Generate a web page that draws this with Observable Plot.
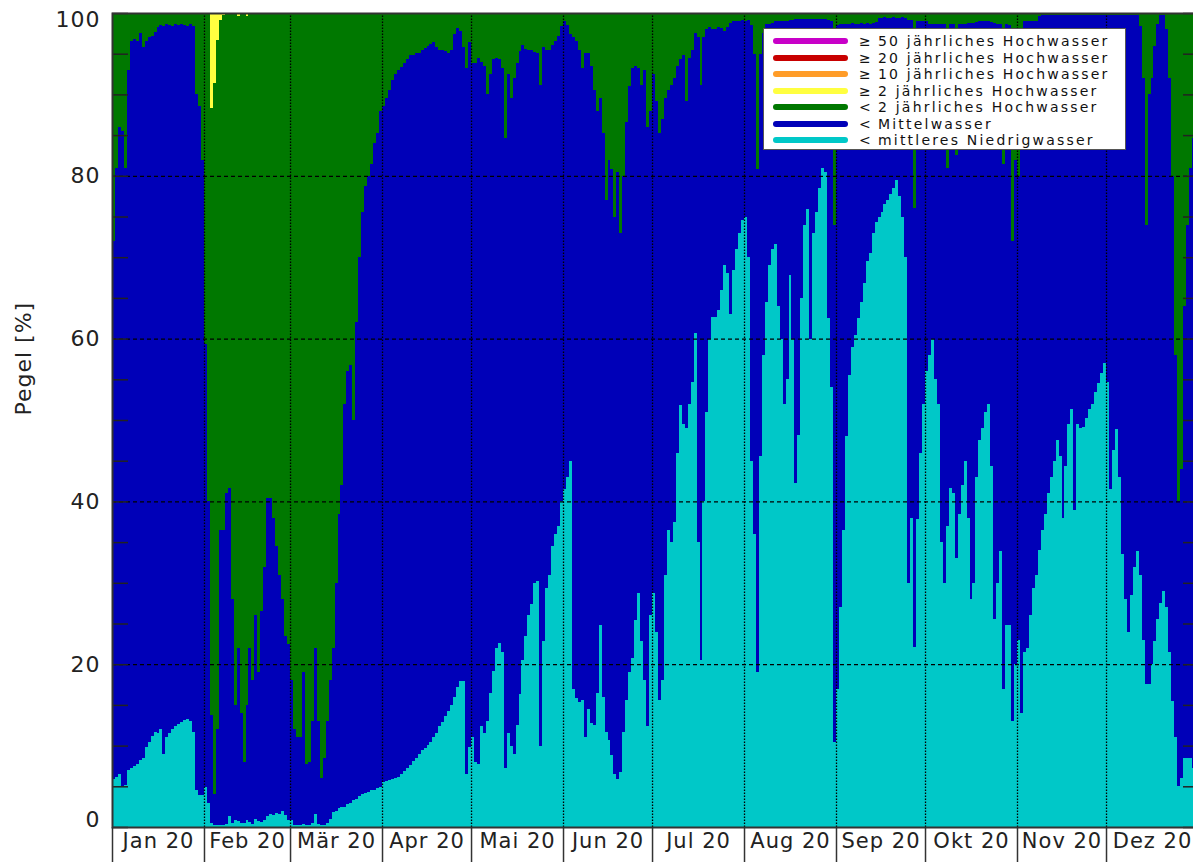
<!DOCTYPE html>
<html>
<head>
<meta charset="utf-8">
<script src="https://cdn.jsdelivr.net/npm/d3@7"></script>
<script src="https://cdn.jsdelivr.net/npm/@observablehq/plot@0.6"></script>
<style>
  html, body { margin: 0; padding: 0; background: #fff; overflow: hidden; }
  #wrap { position: relative; width: 1193px; height: 862px; overflow: hidden; background: #fff; }
  #wrap svg { max-width: none !important; display: block; }
  #wrap svg text { letter-spacing: 1px; }
  #legend { position: absolute; left: 763px; top: 28px; width: 363px; height: 122px;
            background: #fff; border: 1px solid #555; box-sizing: border-box;
            font-family: "DejaVu Sans", sans-serif; font-size: 14px; letter-spacing: 2.2px; color: #111; }
  #legend .ln { position: absolute; left: 9px; width: 75px; height: 6px; border-radius: 3px; }
  #legend .sym { position: absolute; left: 95px; height: 16px; line-height: 16px; }
  #legend .txt { position: absolute; left: 114px; height: 16px; line-height: 16px; white-space: nowrap; }
</style>
</head>
<body>
<div id="wrap"></div>
<script>
// ---- Daten: tägliche Anteile der Pegel (%) im Jahr 2020 ----
// Anteil der Pegel unter mittlerem Niedrigwasser (cyan)
const anteilUnterMNW = [
  // Jan
  5.9, 6.2, 6.5, 5.0, 5.2, 7.0, 7.2, 7.5, 7.8, 8.2, 8.5, 9.8, 10.5, 11.2, 11.7, 11.5, 12.0, 9.0, 11.0, 11.5, 12.0, 12.4, 12.7, 12.9, 13.2, 13.3, 13.0, 11.7, 4.6, 3.9, 3.9,
  // Feb
  4.9, 3.0, 0.5, 0.3, 0.3, 0.3, 0.3, 0.4, 1.3, 0.5, 0.8, 0.7, 0.5, 0.5, 0.8, 0.6, 0.4, 1.0, 0.7, 0.6, 0.8, 1.3, 1.6, 1.5, 1.7, 1.6, 2.0, 1.5, 0.8,
  // Mär
  0.8, 0.3, 0.3, 0.3, 0.4, 0.3, 0.3, 0.5, 1.6, 0.4, 0.3, 0.3, 0.5, 1.0, 1.8, 2.0, 2.3, 2.4, 2.5, 2.8, 3.0, 3.3, 3.5, 3.8, 4.0, 4.2, 4.3, 4.5, 4.6, 4.8, 4.9,
  // Apr
  5.5, 5.6, 5.8, 5.9, 6.0, 6.2, 6.5, 6.9, 7.3, 7.6, 8.1, 8.5, 9.0, 9.4, 9.7, 10.1, 10.4, 11.0, 11.6, 12.4, 12.9, 13.6, 14.3, 15.0, 16.0, 17.2, 17.9, 17.9, 6.5, 9.8,
  // Mai
  11, 8, 7.8, 12.4, 11.5, 13, 16.5, 19.2, 22, 22.6, 21.5, 7.2, 11.5, 10, 9, 12.5, 16.3, 20.5, 23.5, 26, 27.4, 30, 30.2, 10, 22.8, 29.3, 31, 34.5, 36, 37, 40,
  // Jun
  41.5, 43, 45, 17, 15.8, 15.3, 15.6, 11, 14.5, 12.8, 12.5, 16.5, 24.8, 16, 11.7, 10.7, 8.8, 6.5, 5.9, 6.8, 11.7, 15.6, 19, 20.8, 25.4, 28.7, 22.8, 18, 12.4, 26,
  // Jul
  28.7, 24, 15.6, 18, 31, 36.5, 35, 37.5, 46, 51.8, 49.5, 49, 52, 54.7, 60.7, 35, 20.5, 40, 51, 60, 62.7, 62.6, 63.5, 66, 69, 68, 63, 68.4, 71, 73, 74.6,
  // Aug
  74.9, 70, 45, 36, 19, 45.6, 58, 64.5, 69, 71, 71.6, 64, 60, 52, 55, 67.8, 60, 42.3, 48.2, 65, 74, 75.9, 60, 73, 75.6, 78.5, 81, 80.5, 62.5, 54, 10.5,
  // Sep
  17, 27, 36.5, 48, 55.5, 59, 60.5, 62.5, 64.5, 66.8, 69.5, 70.5, 73, 74.3, 75, 75.6, 76.5, 77, 77.8, 78.5, 79.5, 77.5, 75, 70, 30, 38, 22.1, 37.8, 46, 52,
  // Okt
  56, 58, 60, 55, 52, 35, 30, 37, 41.7, 41, 33, 38.4, 42, 45, 38, 28, 30, 43, 47.6, 49, 51, 52, 44.3, 25.5, 30, 33.9, 17, 24.8, 24.8, 13, 20,
  // Nov
  23, 14, 21.5, 22, 26, 29.3, 31, 34, 36.5, 38.5, 41, 43, 45, 47.5, 45.6, 38, 44.3, 49.5, 51.4, 39, 49.5, 49, 49.2, 50.3, 51.3, 52, 53.4, 54.5, 55.8, 57,
  // Dez
  54.7, 41.5, 46.3, 48.9, 43, 33.5, 28, 24, 28.5, 32, 33.9, 31, 23, 17.6, 17.6, 20, 22.8, 25.5, 27.5, 29, 27, 21.5, 15.5, 11, 5, 6, 8.5, 8.5, 8.5, 7.2, 7
];

// Summenanteil der Pegel unter Mittelwasser (Oberkante blau)
const summeUnterMW = [
  // Jan
  72, 81, 86, 85.5, 81, 93, 96.5, 96.8, 96.5, 97.5, 95.8, 96.5, 97, 97.2, 97.7, 98.3, 98.5, 98.4, 98.6, 98.5, 98.4, 98.6, 98.5, 98.6, 98.5, 98.4, 98.6, 98.4, 90, 88.6, 82,
  // Feb
  59.3, 40, 13.7, 4, 12, 36.5, 36.5, 41, 41.7, 28, 15, 22, 14, 8, 15, 22, 18, 26, 19, 26.5, 32, 40.4, 40.4, 38, 34.5, 31, 28, 23.5, 22.5,
  // Mär
  18, 12, 11, 11, 19, 7.8, 8, 13, 22, 13, 6, 8.5, 13, 18, 22, 30, 38.5, 42, 52, 56, 56.7, 50, 62, 70, 75.6, 78.8, 80, 81.5, 84, 85.3, 88,
  // Apr
  88.6, 89.6, 90.5, 91.8, 92.5, 93, 93.4, 93.8, 94.3, 94.8, 94.8, 95.1, 95.1, 95.4, 95.7, 96, 96.2, 96.4, 95.8, 95.5, 95.5, 95.3, 95.1, 95.5, 97.4, 98.2, 97.8, 95.8, 93.2, 96.4,
  // Mai
  93.8, 93.8, 94.5, 94, 93.5, 90, 92.5, 94.3, 94.5, 94.3, 93.2, 84.7, 92.5, 89.5, 92, 93.8, 95.3, 96.1, 95.6, 95.5, 95.5, 95.2, 95.1, 91.2, 95.8, 95.5, 95.4, 96.1, 96.6, 97.2, 98.4,
  // Jun
  99, 98.5, 97.4, 97, 96.5, 95.5, 93.2, 95.1, 95.1, 93.5, 90.6, 88, 89.5, 85.3, 77, 82, 80.8, 75, 80.5, 73, 80, 86.6, 91, 93.2, 93.5, 93.2, 91.2, 93, 86, 88,
  // Jul
  92.5, 89.2, 85.3, 87, 89.5, 90.6, 91.2, 92, 93.5, 94.3, 94.8, 89.2, 94.5, 95.4, 97.5, 97, 91.2, 97, 98, 98.3, 98, 98, 98.3, 98.2, 97.8, 98.3, 98.8, 99, 99, 99, 99.1,
  // Aug
  99, 99.1, 98.5, 95, 80.8, 95, 97.5, 98.6, 98.7, 98.8, 99, 99, 99, 99, 99, 99.1, 99.2, 99.3, 99.3, 99.3, 99.3, 99.3, 99.3, 99.3, 99.3, 99.3, 99.3, 99.3, 99.2, 99, 74,
  // Sep
  98.5, 98.7, 98.7, 98.7, 98.7, 98.8, 98.7, 98.7, 98.8, 98.7, 98.8, 98.7, 98.8, 98.9, 99.4, 99.4, 99.5, 99.4, 99.4, 99.5, 99.4, 99.4, 99.5, 99.4, 99.2, 99.2, 76, 99, 99, 99,
  // Okt
  99, 98.7, 98.7, 98.7, 98.7, 98.7, 98.7, 81, 98.7, 98.7, 82.5, 98.7, 98.7, 98.7, 98.8, 98.8, 98.8, 98.9, 99, 99, 99, 99, 98.9, 98.8, 98.7, 98.7, 81.5, 98.7, 98.5, 72, 82,
  // Nov
  80, 85, 99, 99, 99, 99, 99, 99.6, 99.7, 99.7, 99.7, 99.7, 99.7, 99.7, 99.7, 99.7, 99.7, 99.7, 99.7, 99.7, 99.7, 99.7, 99.7, 99.7, 99.7, 99.7, 99.7, 99.7, 99.7, 99.7,
  // Dez
  99.8, 99.8, 99.8, 99.8, 99.8, 99.8, 99.8, 99.8, 99.8, 99.8, 99.8, 98.4, 92, 74, 90, 92, 96, 98.6, 99.7, 99.7, 98, 92, 80, 58, 40, 44, 64, 74, 81, 84.7, 86
];

// Summenanteil der Pegel unter 2-jährlichem Hochwasser (Oberkante grün)
const summeUnterHQ2 = [
  // Jan
  100, 100, 100, 100, 100, 100, 100, 100, 100, 100, 100, 100, 100, 100, 100, 100, 100, 100, 100, 100, 100, 100, 100, 100, 100, 100, 100, 100, 100, 100, 100,
  // Feb
  100, 100, 88.3, 91.4, 96.7, 99.2, 99.7, 100, 100, 100, 100, 99.6, 100, 100, 99.6, 100, 100, 100, 100, 100, 100, 100, 100, 100, 100, 100, 100, 100, 100,
  // Mär
  100, 100, 100, 100, 100, 100, 100, 100, 100, 100, 100, 100, 100, 100, 100, 100, 100, 100, 100, 100, 100, 100, 100, 100, 100, 100, 100, 100, 100, 100, 100,
  // Apr
  100, 100, 100, 100, 100, 100, 100, 100, 100, 100, 100, 100, 100, 100, 100, 100, 100, 100, 100, 100, 100, 100, 100, 100, 100, 100, 100, 100, 100, 100,
  // Mai
  100, 100, 100, 100, 100, 100, 100, 100, 100, 100, 100, 100, 100, 100, 100, 100, 100, 100, 100, 100, 100, 100, 100, 100, 100, 100, 100, 100, 100, 100, 100,
  // Jun
  100, 100, 100, 100, 100, 100, 100, 100, 100, 100, 100, 100, 100, 100, 100, 100, 100, 100, 100, 100, 100, 100, 100, 100, 100, 100, 100, 100, 100, 100,
  // Jul
  100, 100, 100, 100, 100, 100, 100, 100, 100, 100, 100, 100, 100, 100, 100, 100, 100, 100, 100, 100, 100, 100, 100, 100, 100, 100, 100, 100, 100, 100, 100,
  // Aug
  100, 100, 100, 100, 100, 100, 100, 100, 100, 100, 100, 100, 100, 100, 100, 100, 100, 100, 100, 100, 100, 100, 100, 100, 100, 100, 100, 100, 100, 100, 100,
  // Sep
  100, 100, 100, 100, 100, 100, 100, 100, 100, 100, 100, 100, 100, 100, 100, 100, 100, 100, 100, 100, 100, 100, 100, 100, 100, 100, 100, 100, 100, 100,
  // Okt
  100, 100, 100, 100, 100, 100, 100, 100, 100, 100, 100, 100, 100, 100, 100, 100, 100, 100, 100, 100, 100, 100, 100, 100, 100, 100, 100, 100, 100, 100, 100,
  // Nov
  100, 100, 100, 100, 100, 100, 100, 100, 100, 100, 100, 100, 100, 100, 100, 100, 100, 100, 100, 100, 100, 100, 100, 100, 100, 100, 100, 100, 100, 100,
  // Dez
  100, 100, 100, 100, 100, 100, 100, 100, 100, 100, 100, 100, 100, 100, 100, 100, 100, 100, 100, 100, 100, 100, 100, 100, 100, 100, 100, 100, 100, 100, 100
];

const monatsLabels = ["Jan 20", "Feb 20", "Mär 20", "Apr 20", "Mai 20", "Jun 20",
                      "Jul 20", "Aug 20", "Sep 20", "Okt 20", "Nov 20", "Dez 20"];
const yTickLabels = [0, 20, 40, 60, 80, 100];

// Klassen (Stapel von unten nach oben) und Farben
const klassen = ["< mittleres Niedrigwasser", "< Mittelwasser", "< 2 jährliches Hochwasser",
                 "≥ 2 jährliches Hochwasser", "≥ 10 jährliches Hochwasser",
                 "≥ 20 jährliches Hochwasser", "≥ 50 jährliches Hochwasser"];
const farben = ["#00c8c8", "#0000b8", "#007800", "#ffff40", "#ff9c28", "#c80000", "#c800c8"];

// Legende (von oben nach unten)
const legendeSymbole = ["≥", "≥", "≥", "≥", "<", "<", "<"];
const legendeTexte = ["50 jährliches Hochwasser", "20 jährliches Hochwasser", "10 jährliches Hochwasser",
                      "2 jährliches Hochwasser", "2 jährliches Hochwasser", "Mittelwasser",
                      "mittleres Niedrigwasser"];
const legendeFarben = ["#c800c8", "#c80000", "#ff9c28", "#ffff40", "#007800", "#0000b8", "#00c8c8"];

// ---- Aufbereitung ----
const start = new Date(Date.UTC(2020, 0, 1));
const ende = d3.utcYear.offset(start, 1);
const tage = d3.utcDay.range(start, ende);
const monatsAnfaenge = d3.utcMonth.range(start, ende);
const monatsMitten = monatsAnfaenge.map(m => new Date((+m + +d3.utcMonth.offset(m, 1)) / 2));

const rows = [];
function addRows(datum, i) {
  const c = anteilUnterMNW[i], b = summeUnterMW[i], g = summeUnterHQ2[i];
  rows.push({datum, klasse: klassen[0], anteil: c});
  rows.push({datum, klasse: klassen[1], anteil: b - c});
  rows.push({datum, klasse: klassen[2], anteil: g - b});
  rows.push({datum, klasse: klassen[3], anteil: 100 - g});
}
tage.forEach((t, i) => addRows(t, i));
addRows(ende, tage.length - 1); // Abschluss der letzten Tagesstufe

const chart = Plot.plot({
  width: 1198,
  height: 862,
  marginLeft: 112,
  marginRight: 0,
  marginTop: 13,
  marginBottom: 35,
  style: {fontFamily: "DejaVu Sans, sans-serif", background: "#fff", color: "#222"},
  x: {type: "utc", domain: [start, ende], label: null, axis: null},
  y: {domain: [0, 100], label: null},
  color: {domain: klassen, range: farben},
  marks: [
    Plot.areaY(rows, {x: "datum", y: "anteil", fill: "klasse", order: klassen,
                      curve: "step-after", shapeRendering: "crispEdges"}),
    Plot.ruleY(yTickLabels.slice(1, -1), {stroke: "#000", strokeWidth: 1.3, strokeDasharray: "4,3"}),
    Plot.ruleX(monatsAnfaenge.slice(1), {y1: 0, y2: 100, stroke: "#000", strokeWidth: 1.3, strokeDasharray: "1.5,1.5"}),
    Plot.ruleX(monatsAnfaenge, {y1: 0, y2: -6, stroke: "#333", strokeWidth: 1.5}),
    Plot.text(monatsLabels, {x: (d, i) => monatsMitten[i], frameAnchor: "bottom", dy: 20,
                             fontSize: 21, fill: "#222"}),
    Plot.axisY(d3.range(0, 101, 5), {anchor: "left", tickSize: 16, dx: 16, tickFormat: () => "",
                                     strokeWidth: 1.5, label: null}),
    Plot.axisY(d3.range(0, 101, 5), {anchor: "right", tickSize: 16, dx: -16, tickFormat: () => "",
                                     strokeWidth: 1.5, label: null}),
    Plot.axisY(yTickLabels.slice(1, -1), {anchor: "left", tickSize: 0, tickPadding: 12, fontSize: 22, label: null}),
    Plot.axisY(yTickLabels.slice(-1), {anchor: "left", tickSize: 0, tickPadding: 12, fontSize: 22, label: null, dy: 6}),
    Plot.axisY(yTickLabels.slice(0, 1), {anchor: "left", tickSize: 0, tickPadding: 12, fontSize: 22, label: null, dy: -8}),
    Plot.text(["Pegel [%]"], {frameAnchor: "left", rotate: -90, dx: -89, dy: -5, fontSize: 22, fill: "#222"}),
    Plot.frame({stroke: "#333", strokeWidth: 2})
  ]
});

const wrap = document.getElementById("wrap");
wrap.appendChild(chart);

// Legende
const leg = document.createElement("div");
leg.id = "legend";
legendeTexte.forEach((t, i) => {
  const y = 12 + i * 16.5;
  const ln = document.createElement("div");
  ln.className = "ln";
  ln.style.top = (y - 3) + "px";
  ln.style.background = legendeFarben[i];
  leg.appendChild(ln);
  const s = document.createElement("div");
  s.className = "sym";
  s.style.top = (y - 8) + "px";
  s.textContent = legendeSymbole[i];
  leg.appendChild(s);
  const tx = document.createElement("div");
  tx.className = "txt";
  tx.style.top = (y - 8) + "px";
  tx.textContent = t;
  leg.appendChild(tx);
});
wrap.appendChild(leg);
</script>
</body>
</html>
